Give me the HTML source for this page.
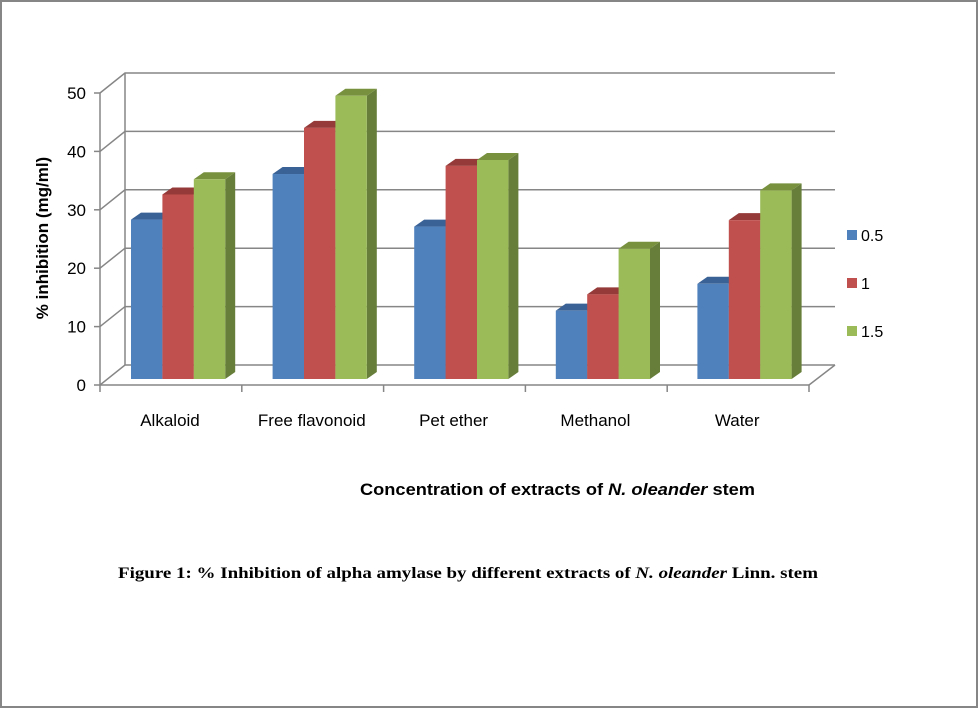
<!DOCTYPE html>
<html><head><meta charset="utf-8"><style>
body{margin:0;background:#fff}
svg{display:block;font-family:"Liberation Sans",sans-serif}
</style></head><body>
<svg id="c" width="978" height="708" viewBox="0 0 978 708">
<rect x="1" y="1" width="976" height="706" fill="#fff" stroke="#868686" stroke-width="2"/>
<g id="grid"></g>
<g id="bars"></g>
<g id="axes"></g>
<text x="0" y="0" transform="translate(48,238) rotate(-90)" text-anchor="middle" font-size="17" font-weight="bold" fill="#000">% inhibition (mg/ml)</text>
<text x="360" y="495" textLength="395" lengthAdjust="spacingAndGlyphs" font-size="17" font-weight="bold">Concentration of extracts of <tspan font-style="italic">N. oleander</tspan> stem</text>
<text x="118" y="578" textLength="700" lengthAdjust="spacingAndGlyphs" font-size="16" font-weight="bold" font-family="Liberation Serif, serif">Figure 1: % Inhibition of alpha amylase by different extracts of <tspan font-style="italic">N. oleander</tspan> Linn. stem</text>
<g id="legend"></g>
</svg>
<script>
const categories=["Alkaloid","Free flavonoid","Pet ether","Methanol","Water"];
const seriesNames=["0.5","1","1.5"];
const s05=[27.3,35.1,26.1,11.7,16.3];
const s1=[31.6,43.0,36.5,14.5,27.2];
const s15=[34.2,48.5,37.5,22.3,32.3];
const yTicks=[0,10,20,30,40,50];
const series=[s05,s1,s15];
const front=["#4f81bd","#c0504d","#9bbb59"],topc=["#3a6296","#953a38","#78913f"],side=["#3a6296","#953a38","#677e3a"];
const NS="http://www.w3.org/2000/svg";
const PX=5.84, DX=25, DY=-20;
function yFront(v){return 385-v*PX;}
function yBar(v){return 379-v*PX;}
function xGroup(i){return 131+i*141.6;}
function mk(tag,attrs,parent){const e=document.createElementNS(NS,tag);for(const k in attrs)e.setAttribute(k,attrs[k]);parent.appendChild(e);return e;}
const grid=document.getElementById('grid'),bars=document.getElementById('bars'),axes=document.getElementById('axes'),legend=document.getElementById('legend');
mk('line',{x1:125,y1:yFront(0)+DY,x2:125,y2:yFront(50)+DY,stroke:'#868686','stroke-width':1.5},grid);
mk('line',{x1:100,y1:yFront(0),x2:100,y2:yFront(50),stroke:'#868686','stroke-width':1.5},axes);
yTicks.forEach(v=>{
  const y=yFront(v);
  const l=mk('polyline',{points:`100,${y} 125,${y+DY} 835,${y+DY}`,fill:'none',stroke:'#868686','stroke-width':1.5},grid);
  
  
  mk('line',{x1:94,y1:y,x2:100,y2:y,stroke:'#868686','stroke-width':1.5},axes);
  const t=mk('text',{x:86,y:y+6,'text-anchor':'end','font-size':17},axes);
  t.textContent=v;
  
  
});
mk('line',{x1:100,y1:385,x2:809,y2:385,stroke:'#868686','stroke-width':1.5},axes);
mk('line',{x1:809,y1:385,x2:835,y2:365,stroke:'#868686','stroke-width':1.5},axes);
for(let i=0;i<=5;i++){const x=100+i*141.8;mk('line',{x1:x,y1:385,x2:x,y2:392,stroke:'#868686','stroke-width':1.5},axes);}
categories.forEach((c,i)=>{
  const t=mk('text',{x:170+i*141.8,y:426,'text-anchor':'middle','font-size':17},axes);
  t.textContent=c;
  
  
  series.forEach((s,j)=>{
    const w=31.4,x=xGroup(i)+j*w,y=yBar(s[i]),b=379;
    const g=mk('g',{},bars);
    
    
    mk('polygon',{points:`${x+w},${y} ${x+w+10},${y-7} ${x+w+10},${b-7} ${x+w},${b}`,fill:side[j]},g);
    mk('polygon',{points:`${x},${y} ${x+10},${y-7} ${x+w+10},${y-7} ${x+w},${y}`,fill:topc[j]},g);
    mk('rect',{x:x,y:y,width:w,height:b-y,fill:front[j]},g);
  });
});
seriesNames.forEach((n,j)=>{
  const y=235+j*48;
  const g=mk('g',{},legend);
  
  
  mk('rect',{x:847,y:y-5,width:10,height:10,fill:front[j]},g);
  const t=mk('text',{x:861,y:y+6,'font-size':16},g);t.textContent=n;
});
</script>
</body></html>
